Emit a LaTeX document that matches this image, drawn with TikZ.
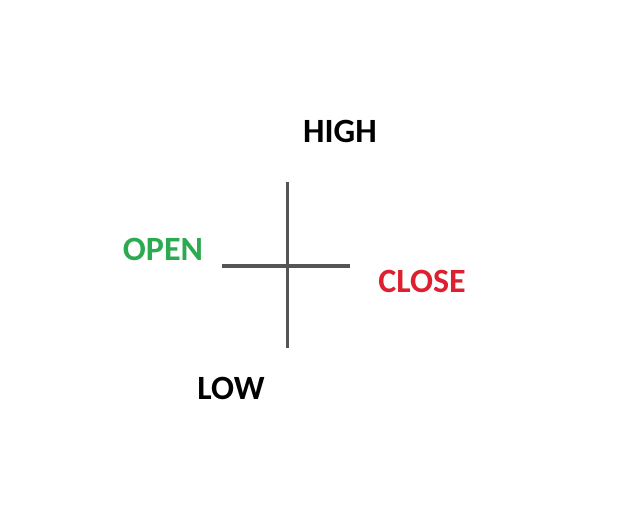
\documentclass[tikz,border=0pt]{standalone}
\usepackage{fontspec}
\setmainfont{Carlito}
\usepackage{xcolor}
\usepackage{tikz}
\usetikzlibrary{positioning,calc}
\definecolor{wickgray}{RGB}{85,85,85}
\definecolor{opengreen}{RGB}{44,170,80}
\definecolor{closered}{RGB}{220,32,48}

\begin{document}
\begin{tikzpicture}[x=1pt, y=-1pt,
        lbl/.style={inner sep=0pt, font=\fontsize{34}{40}\selectfont\bfseries},
        wick/.style={draw=wickgray, line width=3pt},
        tick/.style={draw=wickgray, line width=4pt}]

        \useasboundingbox (0,0) rectangle (640,530);

        \coordinate (TOP) at (287,182);
        \coordinate (BOT) at (287,348);
        \coordinate (LEFT) at (222,266);
        \coordinate (RIGHT) at (350,266);

        \node[lbl, anchor=base] (HIGH) at (340,142) {HIGH};
        \node[lbl, anchor=base, text=opengreen] (OPEN) at (163,260) {OPEN};
        \node[lbl, anchor=base, text=closered] (CLOSE) at (422,292) {CLOSE};
        \node[lbl, anchor=base] (LOW) at (231,399) {LOW};

        \draw[wick] (TOP) -- (BOT);
        \draw[tick] (LEFT) -- (RIGHT);

    \end{tikzpicture}
\end{document}
